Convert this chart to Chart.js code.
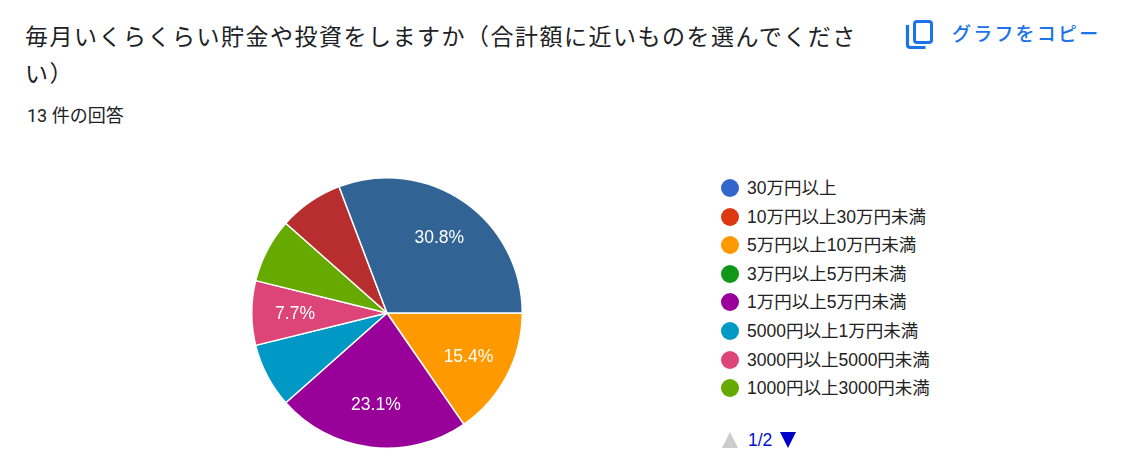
<!DOCTYPE html>
<html lang="ja">
<head>
<meta charset="utf-8">
<script src="https://cdn.jsdelivr.net/npm/chart.js@4.4.1/dist/chart.umd.min.js"></script>
<style>
  html, body { margin:0; padding:0; background:#fff; }
  body { width:1127px; height:461px; position:relative; overflow:hidden;
         font-family:"Noto Sans CJK JP", "Noto Sans", sans-serif; }
  #title { position:absolute; left:25px; top:17px; width:846px; font-size:23px;
           letter-spacing:1.5px; line-height:37px; color:#202124; margin:0; font-weight:400; }
  #count { position:absolute; left:27px; top:103px; font-size:18px; line-height:26px; color:#202124;
           font-family:Roboto, "Noto Sans CJK JP", sans-serif; }
  #copy { position:absolute; left:904px; top:18px; height:32px; color:#1a73e8; }
  #copy svg { position:absolute; left:0; top:0; }
  #copy span { position:absolute; left:48px; top:1px; white-space:nowrap; font-size:19px;
               letter-spacing:2.2px; line-height:28px; font-weight:500; }
  #wrap { position:absolute; left:247px; top:173px; width:280px; height:280px; }
  #legend { position:absolute; left:721px; top:174px; margin:0; padding:0; list-style:none;
            font-family:"Liberation Sans", Arial, "Noto Sans CJK JP", sans-serif; font-size:17.5px; color:#222; }
  #legend li { position:relative; height:28.6px; line-height:28px; padding-left:26px; white-space:nowrap; }
  #legend li i { position:absolute; left:0; top:5px; width:18px; height:18px; border-radius:50%; }
  #pager { position:absolute; left:722px; top:430px; height:20px; font-family:"Liberation Sans", Arial, sans-serif; }
  #pager .up { position:absolute; left:0; top:2px; width:0; height:0; border-left:8.5px solid transparent;
               border-right:8.5px solid transparent; border-bottom:16px solid #cccccc; }
  #pager .num { position:absolute; left:26px; top:0; font-size:17.5px; line-height:20px; color:#0011cc; }
  #pager .down { position:absolute; left:58px; top:2px; width:0; height:0; border-left:8.5px solid transparent;
               border-right:8.5px solid transparent; border-top:16px solid #0000cc; }
</style>
</head>
<body>
<h1 id="title"></h1>
<div id="count"></div>
<div id="copy">
  <svg width="30" height="32" viewBox="0 0 30 32">
    <rect x="10.5" y="3.5" width="17" height="21" rx="2.5" ry="2.5" fill="none" stroke="#1a73e8" stroke-width="3"/>
    <path d="M3.5 7 V26.5 Q3.5 29.5 6.5 29.5 H21.5" fill="none" stroke="#1a73e8" stroke-width="3.2"/>
  </svg>
  <span>グラフをコピー</span>
</div>
<div id="wrap"><canvas id="chart" width="280" height="280"></canvas></div>
<ul id="legend"></ul>
<div id="pager"><span class="up"></span><span class="num"></span><span class="down"></span></div>

<script>
// ---- data ----
const titleText = "毎月いくらくらい貯金や投資をしますか（合計額に近いものを選んでください）";
const responseCount = 13;
const categories = [
  "30万円以上",
  "10万円以上30万円未満",
  "5万円以上10万円未満",
  "3万円以上5万円未満",
  "1万円以上5万円未満",
  "5000円以上1万円未満",
  "3000円以上5000円未満",
  "1000円以上3000円未満",
  "1000円未満",
  "0円"
];
const counts = [0, 0, 2, 0, 3, 1, 1, 1, 1, 4];
const colors = ["#3366cc", "#dc3912", "#ff9900", "#109618", "#990099",
                "#0099c6", "#dd4477", "#66aa00", "#b82e2e", "#316395"];
// which slices carry a visible percentage label in the reference
const showPct = [false, false, true, false, true, false, true, false, false, true];
const legendPageSize = 8;
const legendPageText = "1/2";

// ---- page text ----
document.getElementById('title').textContent = titleText;
document.getElementById('count').textContent = responseCount + " 件の回答";
document.querySelector('#pager .num').textContent = legendPageText;

const legend = document.getElementById('legend');
categories.slice(0, legendPageSize).forEach((c, i) => {
  const li = document.createElement('li');
  const dot = document.createElement('i');
  dot.style.background = colors[i];
  li.appendChild(dot);
  li.appendChild(document.createTextNode(c));
  legend.appendChild(li);
});

const total = counts.reduce((a, b) => a + b, 0);

const pctLabels = {
  id: 'pctLabels',
  afterDatasetsDraw(chart) {
    const ctx = chart.ctx;
    const meta = chart.getDatasetMeta(0);
    ctx.save();
    ctx.font = '17.5px "Liberation Sans", Arial, sans-serif';
    ctx.fillStyle = '#ffffff';
    ctx.textAlign = 'center';
    ctx.textBaseline = 'middle';
    meta.data.forEach((arc, i) => {
      if (!showPct[i] || counts[i] === 0) return;
      const p = arc.getProps(['x', 'y', 'startAngle', 'endAngle', 'outerRadius'], true);
      const mid = (p.startAngle + p.endAngle) / 2;
      const r = p.outerRadius * 0.68;
      const txt = (counts[i] / total * 100).toFixed(1) + '%';
      ctx.fillText(txt, p.x + Math.cos(mid) * r, p.y + Math.sin(mid) * r + 1);
    });
    ctx.restore();
  }
};

new Chart(document.getElementById('chart'), {
  type: 'pie',
  data: {
    labels: categories,
    datasets: [{
      data: counts,
      backgroundColor: colors,
      borderColor: '#ffffff',
      borderWidth: 1.5,
      hoverOffset: 0
    }]
  },
  options: {
    responsive: false,
    animation: false,
    rotation: 90,
    layout: { padding: 4 },
    plugins: { legend: { display: false }, tooltip: { enabled: false } }
  },
  plugins: [pctLabels]
});
</script>
</body>
</html>
